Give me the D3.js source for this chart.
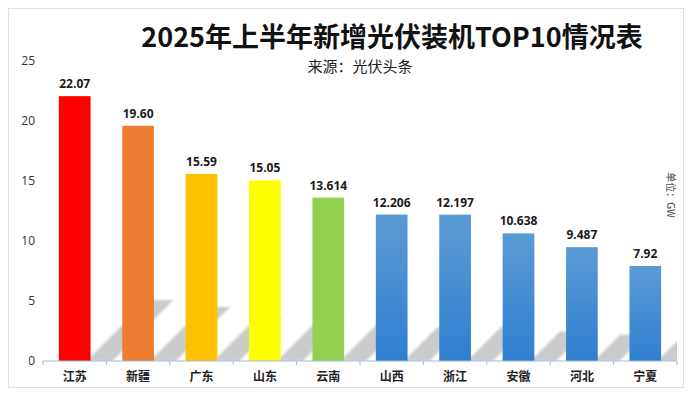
<!DOCTYPE html>
<html>
<head>
<meta charset="utf-8">
<script src="https://cdn.jsdelivr.net/npm/d3@7"></script>
<style>
  body { margin: 0; background: #fff; }
  svg { display: block; font-family: "Noto Sans CJK SC", "Noto Sans", sans-serif; }
</style>
</head>
<body>
<div id="vis"></div>
<script>
const WIDTH = 692;
const HEIGHT = 395;

// data
const provinces = ["江苏", "新疆", "广东", "山东", "云南", "山西", "浙江", "安徽", "河北", "宁夏"];
const capacity = [22.07, 19.60, 15.59, 15.05, 13.614, 12.206, 12.197, 10.638, 9.487, 7.92];
const valueLabels = ["22.07", "19.60", "15.59", "15.05", "13.614", "12.206", "12.197", "10.638", "9.487", "7.92"];
const yTicks = [0, 5, 10, 15, 20, 25];
const barColors = ["#ff0000", "#ed7d31", "#ffc000", "#ffff00", "#92d050", "blue", "blue", "blue", "blue", "blue"];

const data = provinces.map((p, i) => ({name: p, value: capacity[i], label: valueLabels[i], color: barColors[i]}));

const svg = d3.select("#vis")
  .append("svg")
    .attr("width", WIDTH)
    .attr("height", HEIGHT);

const defs = svg.append("defs");

// blue bars fade a little darker toward the bottom
const grad = defs.append("linearGradient")
    .attr("id", "blueGrad")
    .attr("x1", 0).attr("y1", 0).attr("x2", 0).attr("y2", 1);
grad.append("stop").attr("offset", "0%").attr("stop-color", "#5b9bd5");
grad.append("stop").attr("offset", "100%").attr("stop-color", "#2f7fd0");

defs.append("filter")
    .attr("id", "soft")
  .append("feGaussianBlur")
    .attr("stdDeviation", 1.2);

defs.append("clipPath")
    .attr("id", "plotClip")
  .append("rect")
    .attr("x", 43).attr("y", 40).attr("width", 634).attr("height", 321);

// outer frame
svg.append("rect")
    .attr("x", 8.5).attr("y", 8.5)
    .attr("width", 675).attr("height", 379)
    .attr("fill", "none")
    .attr("stroke", "#e2e2e2");

// scales
const x = d3.scaleBand()
    .domain(provinces)
    .range([43, 677])
    .paddingInner(0.5)
    .paddingOuter(0.25);

const y = d3.scaleLinear()
    .domain([0, 25])
    .range([361, 61]);

// y axis labels only, no line
const yAxis = svg.append("g")
    .attr("transform", "translate(43,0)")
    .call(d3.axisLeft(y).tickValues(yTicks).tickSize(0).tickPadding(8));
yAxis.select(".domain").remove();
yAxis.selectAll("text")
    .attr("font-family", "'Open Sans', sans-serif")
    .attr("font-size", 12)
    .attr("fill", "#333");

// slanted ground shadows behind the bars
const SHADOW_W = 22;
svg.append("g")
    .attr("clip-path", "url(#plotClip)")
  .selectAll("path")
  .data(data)
  .enter()
  .append("path")
    .attr("d", (d) => {
      const x0 = x(d.name) + x.bandwidth();
      const base = y(0);
      const h = (y(0) - y(d.value)) * 0.23;
      const p = d3.path();
      p.moveTo(x0 - 4, base);
      p.lineTo(x0 + SHADOW_W, base);
      p.lineTo(x0 + SHADOW_W + h, base - h);
      p.lineTo(x0 - 4 + h, base - h);
      p.closePath();
      return p.toString();
    })
    .attr("fill", "#cbcbcb")
    .attr("filter", "url(#soft)");

// bars
svg.selectAll(".bar")
  .data(data)
  .enter()
  .append("rect")
    .attr("class", "bar")
    .attr("x", (d) => x(d.name))
    .attr("y", (d) => y(d.value))
    .attr("width", x.bandwidth())
    .attr("height", (d) => y(0) - y(d.value))
    .attr("fill", (d) => d.color == "blue" ? "url(#blueGrad)" : d.color);

// value labels
svg.selectAll(".val")
  .data(data)
  .enter()
  .append("text")
    .attr("class", "val")
    .attr("x", (d) => x(d.name) + x.bandwidth() / 2)
    .attr("y", (d) => y(d.value) - 8)
    .attr("text-anchor", "middle")
    .attr("font-family", "'Open Sans', sans-serif")
    .attr("font-weight", 700)
    .attr("font-size", 12)
    .attr("fill", "#1a1a1a")
    .text((d) => d.label);

// x axis: line, ticks between categories, labels
const xAxis = svg.append("g")
    .attr("transform", "translate(0,361)");
xAxis.append("line")
    .attr("x1", 43).attr("x2", 677)
    .attr("stroke", "#9fbcd8")
    .attr("stroke-width", 1);
const bounds = provinces.map((p) => x(p) - x.step() * x.paddingInner() / 2)
    .concat([x(provinces[provinces.length - 1]) + x.bandwidth() + x.step() * x.paddingInner() / 2]);
xAxis.selectAll(".tk")
  .data(bounds)
  .enter()
  .append("line")
    .attr("class", "tk")
    .attr("x1", (d) => d).attr("x2", (d) => d)
    .attr("y1", 0).attr("y2", 4)
    .attr("stroke", "#9fbcd8");
xAxis.selectAll(".cat")
  .data(provinces)
  .enter()
  .append("text")
    .attr("class", "cat")
    .attr("x", (d) => x(d) + x.bandwidth() / 2)
    .attr("y", 20)
    .attr("text-anchor", "middle")
    .attr("font-weight", 700)
    .attr("font-size", 12)
    .attr("fill", "#222")
    .text((d) => d);

// titles
svg.append("text")
    .attr("x", 392)
    .attr("y", 47)
    .attr("text-anchor", "middle")
    .attr("font-weight", 700)
    .attr("font-size", 27)
    .attr("fill", "#111")
    .text("2025年上半年新增光伏装机TOP10情况表");

svg.append("text")
    .attr("x", 360)
    .attr("y", 72)
    .attr("text-anchor", "middle")
    .attr("font-size", 15)
    .attr("fill", "#222")
    .text("来源：光伏头条");

// unit note, rotated
svg.append("text")
    .attr("transform", "translate(667,195) rotate(90)")
    .attr("text-anchor", "middle")
    .attr("font-size", 10)
    .attr("fill", "#444")
    .text("单位：GW");
</script>
</body>
</html>
